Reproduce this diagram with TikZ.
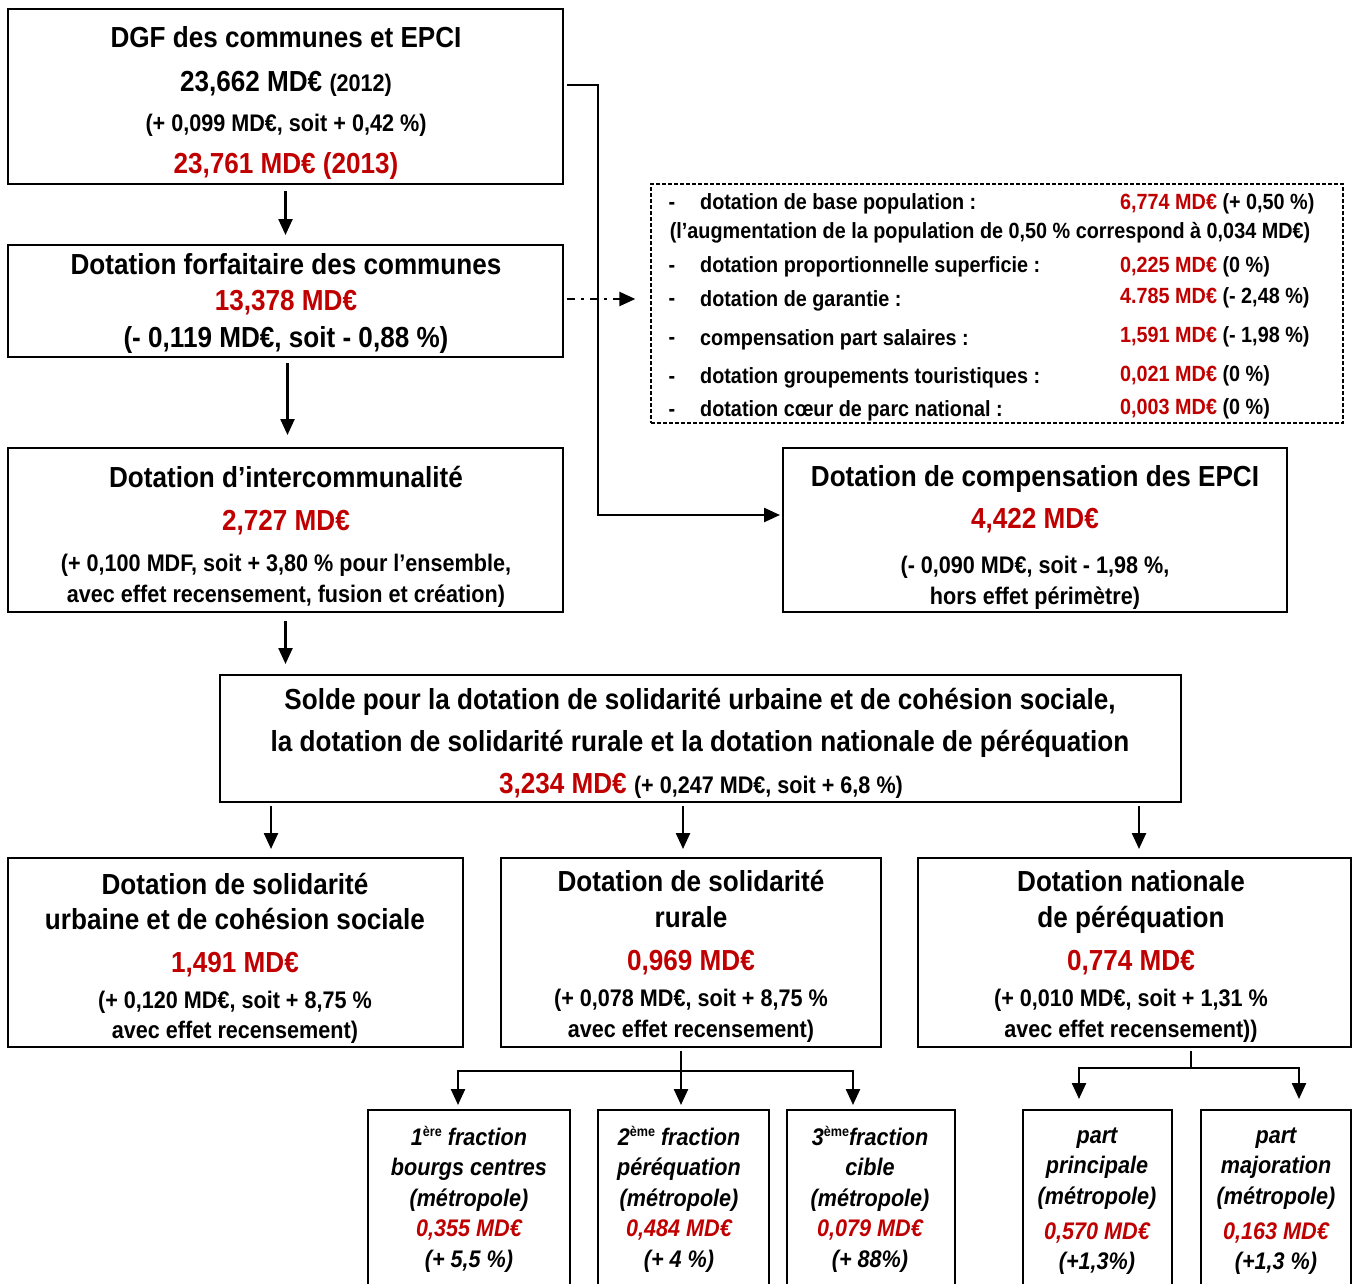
\documentclass[tikz,border=0pt]{standalone}
\usepackage{fontspec}
\setmainfont{Liberation Sans}[FakeStretch=0.9]
\usetikzlibrary{arrows.meta,fit}
\definecolor{dred}{RGB}{192,0,0}
\newcommand\szA{\fontsize{29}{34}\selectfont}
\newcommand\szB{\fontsize{24}{28}\selectfont}
\newcommand\szC{\fontsize{22}{26}\selectfont}
\newcommand\rd[1]{\textcolor{dred}{#1}}
\newcommand\supx[1]{\raisebox{9pt}{\fontsize{14}{14}\selectfont\upshape #1}}
\begin{document}
\begin{tikzpicture}[x=1pt,y=-1pt,
 box/.style={draw, line width=2pt, inner sep=0pt},
 dbox/.style={draw, line width=1.3pt, dash pattern=on 4pt off 2pt, inner sep=0pt},
 lnA/.style={inner sep=0pt, font=\bfseries\szA, text height=20.8pt, text depth=0pt},
 lnB/.style={inner sep=0pt, font=\bfseries\szB, text height=17.2pt, text depth=0pt},
 lnC/.style={inner sep=0pt, font=\bfseries\szC, text height=15.8pt, text depth=0pt},
 lnI/.style={inner sep=0pt, font=\bfseries\itshape\szB, text height=17.2pt, text depth=0pt},
 arr/.style={line width=2.4pt, -{Triangle[length=16pt,width=14pt]}},
 lnk/.style={line width=2.4pt},
]
\useasboundingbox (0,0) rectangle (1352,1283);
\clip (0,0) rectangle (1352,1283);
\fill[white] (0,0) rectangle (1352,1283);

% DGF
\node[box, fit={(8,9)(563,184)}] (dgf) {};
\node[lnA] (dgf1) at (286,37) {DGF des communes et EPCI};
\node[lnA] (dgf2) at (286,81) {23,662 MD€ {\szB(2012)}};
\node[lnB] (dgf3) at (286,123) {(+ 0,099 MD€, soit + 0,42 \%)};
\node[lnA, text=dred] (dgf4) at (286,163) {23,761 MD€ (2013)};

% Forfaitaire
\node[box, fit={(8,245)(563,357)}] (forf) {};
\node[lnA] (forf1) at (286,264) {Dotation forfaitaire des communes};
\node[lnA, text=dred] (forf2) at (286,300) {13,378 MD€};
\node[lnA] (forf3) at (286,337) {(- 0,119 MD€, soit - 0,88 \%)};

% Intercommunalite
\node[box, fit={(8,448)(563,612)}] (itc) {};
\node[lnA] (itc1) at (286,477) {Dotation d’intercommunalité};
\node[lnA, text=dred] (itc2) at (286,520) {2,727 MD€};
\node[lnB] (itc3) at (286,563) {(+ 0,100 MDF, soit + 3,80 \% pour l’ensemble,};
\node[lnB] (itc4) at (286,594) {avec effet recensement, fusion et création)};

% EPCI
\node[box, fit={(783,448)(1287,612)}] (epci) {};
\node[lnA] (epci1) at (1035,476) {Dotation de compensation des EPCI};
\node[lnA, text=dred] (epci2) at (1035,518) {4,422 MD€};
\node[lnB] (epci3) at (1035,565) {(- 0,090 MD€, soit - 1,98 \%,};
\node[lnB] (epci4) at (1035,596) {hors effet périmètre)};

% Detail box
\node[dbox, fit={(651,184)(1343,423)}] (det) {};
\node[lnC] (dd1) at (672,202) {-};
\node[lnC, anchor=west] (dl1) at (700,202) {dotation de base population :};
\node[lnC, anchor=west] (dv1) at (1120,202) {\rd{6,774 MD€} (+ 0,50 \%)};
\node[lnC] (dl2) at (990,231) {(l’augmentation de la population de 0,50 \% correspond à 0,034 MD€)};
\node[lnC] (dd3) at (672,265) {-};
\node[lnC, anchor=west] (dl3) at (700,265) {dotation proportionnelle superficie :};
\node[lnC, anchor=west] (dv3) at (1120,265) {\rd{0,225 MD€} (0 \%)};
\node[lnC] (dd4) at (672,298) {-};
\node[lnC, anchor=west] (dl4) at (700,299) {dotation de garantie :};
\node[lnC, anchor=west] (dv4) at (1120,296) {\rd{4.785 MD€} (- 2,48 \%)};
\node[lnC] (dd5) at (672,337) {-};
\node[lnC, anchor=west] (dl5) at (700,338) {compensation part salaires :};
\node[lnC, anchor=west] (dv5) at (1120,335) {\rd{1,591 MD€} (- 1,98 \%)};
\node[lnC] (dd6) at (672,376) {-};
\node[lnC, anchor=west] (dl6) at (700,376) {dotation groupements touristiques :};
\node[lnC, anchor=west] (dv6) at (1120,374) {\rd{0,021 MD€} (0 \%)};
\node[lnC] (dd7) at (672,409) {-};
\node[lnC, anchor=west] (dl7) at (700,409) {dotation cœur de parc national :};
\node[lnC, anchor=west] (dv7) at (1120,407) {\rd{0,003 MD€} (0 \%)};

% Solde
\node[box, fit={(220,675)(1181,802)}] (solde) {};
\node[lnA] (s1) at (700,699) {Solde pour la dotation de solidarité urbaine et de cohésion sociale,};
\node[lnA] (s2) at (700,741) {la dotation de solidarité rurale et la dotation nationale de péréquation};
\node[lnA] (s3) at (701,783) {\rd{3,234 MD€} {\szB (+ 0,247 MD€, soit + 6,8 \%)}};

% DSU
\node[box, fit={(8,858)(463,1047)}] (dsu) {};
\node[lnA] (u1) at (235,884) {Dotation de solidarité};
\node[lnA] (u2) at (235,919) {urbaine et de cohésion sociale};
\node[lnA, text=dred] (u3) at (235,962) {1,491 MD€};
\node[lnB] (u4) at (235,1000) {(+ 0,120 MD€, soit + 8,75 \%};
\node[lnB] (u5) at (235,1030) {avec effet recensement)};

% DSR
\node[box, fit={(501,858)(881,1047)}] (dsr) {};
\node[lnA] (r1) at (691,881) {Dotation de solidarité};
\node[lnA] (r2) at (691,917) {rurale};
\node[lnA, text=dred] (r3) at (691,960) {0,969 MD€};
\node[lnB] (r4) at (691,998) {(+ 0,078 MD€, soit + 8,75 \%};
\node[lnB] (r5) at (691,1029) {avec effet recensement)};

% DNP
\node[box, fit={(918,858)(1351,1047)}] (dnp) {};
\node[lnA] (n1) at (1131,881) {Dotation nationale};
\node[lnA] (n2) at (1131,917) {de péréquation};
\node[lnA, text=dred] (n3) at (1131,960) {0,774 MD€};
\node[lnB] (n4) at (1131,998) {(+ 0,010 MD€, soit + 1,31 \%};
\node[lnB] (n5) at (1131,1029) {avec effet recensement))};

% Fractions
\node[box, fit={(368,1110)(570,1300)}] (f1) {};
\node[lnI] (f1a) at (469,1137) {1\supx{ère} fraction};
\node[lnI] (f1b) at (469,1167) {bourgs centres};
\node[lnI] (f1c) at (469,1198) {(métropole)};
\node[lnI, text=dred] (f1d) at (469,1228) {0,355 MD€};
\node[lnI] (f1e) at (469,1259) {(+ 5,5 \%)};

\node[box, fit={(598,1110)(769,1300)}] (f2) {};
\node[lnI] (f2a) at (679,1137) {2\supx{ème} fraction};
\node[lnI] (f2b) at (679,1167) {péréquation};
\node[lnI] (f2c) at (679,1198) {(métropole)};
\node[lnI, text=dred] (f2d) at (679,1228) {0,484 MD€};
\node[lnI] (f2e) at (679,1259) {(+ 4 \%)};

\node[box, fit={(787,1110)(955,1300)}] (f3) {};
\node[lnI] (f3a) at (870,1137) {3\supx{ème}fraction};
\node[lnI] (f3b) at (870,1167) {cible};
\node[lnI] (f3c) at (870,1198) {(métropole)};
\node[lnI, text=dred] (f3d) at (870,1228) {0,079 MD€};
\node[lnI] (f3e) at (870,1259) {(+ 88\%)};

% Parts
\node[box, fit={(1023,1110)(1172,1300)}] (p1) {};
\node[lnI] (p1a) at (1097,1135) {part};
\node[lnI] (p1b) at (1097,1165) {principale};
\node[lnI] (p1c) at (1097,1196) {(métropole)};
\node[lnI, text=dred] (p1d) at (1097,1231) {0,570 MD€};
\node[lnI] (p1e) at (1097,1261) {(+1,3\%)};

\node[box, fit={(1201,1110)(1351,1300)}] (p2) {};
\node[lnI] (p2a) at (1276,1135) {part};
\node[lnI] (p2b) at (1276,1165) {majoration};
\node[lnI] (p2c) at (1276,1196) {(métropole)};
\node[lnI, text=dred] (p2d) at (1276,1231) {0,163 MD€};
\node[lnI] (p2e) at (1276,1261) {(+1,3 \%)};

% Connectors
\draw[arr, shorten <=6pt, shorten >=9pt] (dgf.south) -- (forf.north);
\draw[arr, shorten <=5pt, shorten >=12pt] ([xshift=2pt]forf.south) -- ([xshift=2pt]itc.north);
\draw[arr, shorten <=8pt, shorten >=10pt] (itc.south) -- (itc.south |- solde.north);
\draw[arr, shorten >=2pt] ([yshift=11.5pt,xshift=3pt]dgf.east) -- ++(31,0) |- ([yshift=15pt]epci.west);
\draw[line width=2.4pt, dash pattern=on 8pt off 6pt on 3pt off 6pt, -{Triangle[length=16pt,width=14pt]}, shorten <=3pt, shorten >=15pt] ([yshift=2pt]forf.east) -- ([yshift=2pt]forf.east -| det.west);

\draw[arr, shorten <=3pt, shorten >=8pt] ([xshift=-429.5pt]solde.south) -- ([xshift=35.5pt]dsu.north);
\draw[arr, shorten <=3pt, shorten >=8pt] ([xshift=-17.5pt]solde.south) -- ([xshift=-8pt]dsr.north);
\draw[arr, shorten <=3pt, shorten >=8pt] ([xshift=438.5pt]solde.south) -- ([xshift=4.5pt]dnp.north);

\coordinate (j1) at (681,1071);
\draw[lnk, shorten <=3pt] ([xshift=-10pt]dsr.south) -- (j1);
\draw[arr, shorten >=4pt] (j1) -| ([xshift=-11pt]f1.north);
\draw[arr, shorten >=4pt] (j1) -- ([xshift=-2.5pt]f2.north);
\draw[arr, shorten >=4pt] (j1) -| ([xshift=-18pt]f3.north);

\coordinate (j2) at (1191,1068);
\draw[lnk, shorten <=3pt] ([xshift=56.5pt]dnp.south) -- (j2);
\draw[arr, shorten >=10pt] (j2) -| ([xshift=-18.5pt]p1.north);
\draw[arr, shorten >=10pt] (j2) -| ([xshift=23pt]p2.north);
\end{tikzpicture}
\end{document}
